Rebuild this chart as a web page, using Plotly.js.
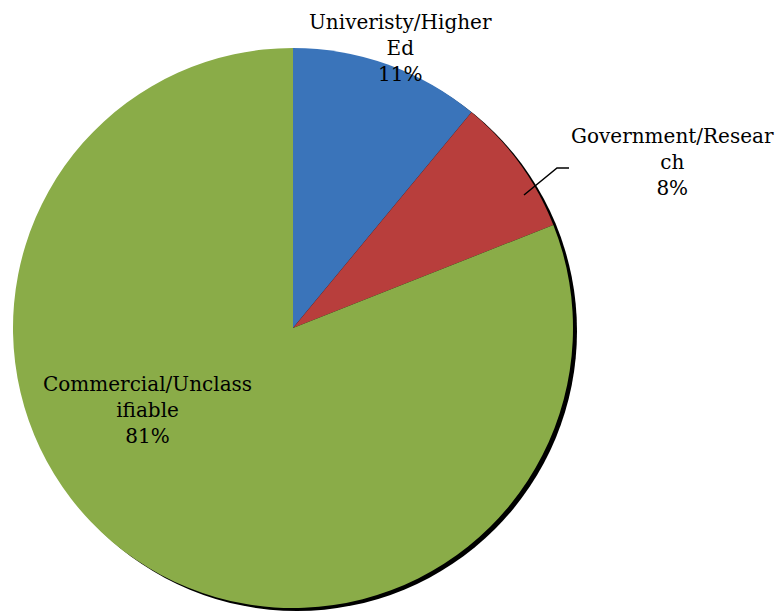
<!DOCTYPE html>
<html>
<head>
<meta charset="utf-8">
<script src="https://cdn.plot.ly/plotly-3.0.1.min.js"></script>
<style>html,body{margin:0;padding:0;background:#fff;}#chart{width:783px;height:611px;}</style>
</head>
<body>
<div id="chart"></div>
<script>
// Data
const categories = ["Univeristy/Higher Ed", "Government/Research", "Commercial/Unclassifiable"];
const labelText = ["Univeristy/Higher<br>Ed", "Government/Resear<br>ch", "Commercial/Unclass<br>ifiable"];
const shares = [11, 8, 81];
const colors = ["#3A74BA", "#B83E3C", "#8AAC48"];

const W = 783, H = 611;
const px = x => x / W;
const py = y => 1 - y / H;

// pie geometry (pixels)
const cx = 293, cy = 328, r = 280;
const sh = {dx: 4, dy: 3};

const shadow = {
  type: "pie",
  values: [1],
  marker: {colors: ["#000000"], line: {width: 0}},
  textinfo: "none",
  hoverinfo: "skip",
  sort: false,
  showlegend: false,
  domain: {x: [px(cx - r + sh.dx), px(cx + r + sh.dx)], y: [py(cy + r + sh.dy), py(cy - r + sh.dy)]}
};

const pie = {
  type: "pie",
  labels: categories,
  values: shares,
  marker: {colors: colors, line: {width: 0}},
  textinfo: "none",
  sort: false,
  direction: "clockwise",
  rotation: 0,
  showlegend: false,
  domain: {x: [px(cx - r), px(cx + r)], y: [py(cy + r), py(cy - r)]}
};

const font = {family: "DejaVu Serif", size: 20, color: "#000"};
const labelPos = [[400, 48], [672, 162], [147, 410]];
const annotations = labelText.map((t, i) => ({
  text: t + "<br>" + shares[i] + "%",
  x: px(labelPos[i][0]), y: py(labelPos[i][1]),
  xref: "paper", yref: "paper",
  xanchor: "center", yanchor: "middle",
  showarrow: false, align: "center", font: font
}));

const layout = {
  width: W, height: H,
  margin: {l: 0, r: 0, t: 0, b: 0},
  paper_bgcolor: "#fff",
  showlegend: false,
  annotations: annotations,
  shapes: [{
    type: "path", xref: "paper", yref: "paper",
    path: `M ${px(524)} ${py(195)} L ${px(557)} ${py(168)} L ${px(569)} ${py(168)}`,
    line: {color: "#000", width: 1.5}
  }]
};

Plotly.newPlot("chart", [shadow, pie], layout, {staticPlot: true});
</script>
</body>
</html>
